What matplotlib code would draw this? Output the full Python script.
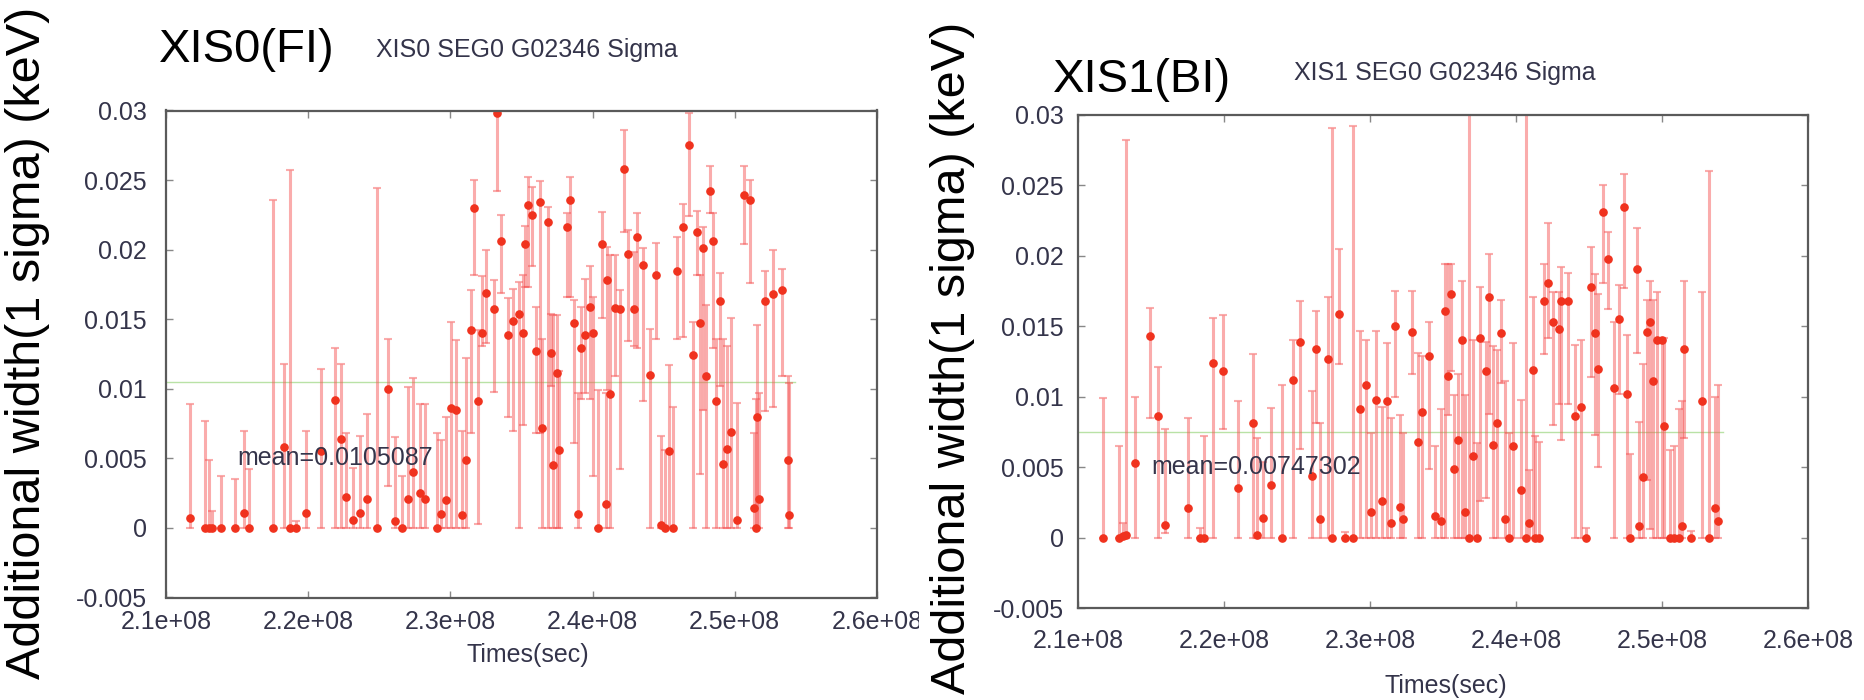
import matplotlib
matplotlib.use("Agg")
import matplotlib.pyplot as plt
import numpy as np
from matplotlib.patches import Rectangle

plt.rcParams['font.family'] = ['Liberation Sans', 'DejaVu Sans']

# XIS0 (FI): time [1e8 s], sigma [keV], lower / upper end of the error bar
xis0_time = [2.1171, 2.1276, 2.1299, 2.1323, 2.1386, 2.1487, 2.1550, 2.1585, 2.1749, 2.1831,
             2.1869, 2.1916, 2.1986, 2.2091, 2.2185, 2.2230, 2.2267, 2.2318, 2.2365, 2.2412,
             2.2483, 2.2564, 2.2610, 2.2658, 2.2705, 2.2736, 2.2787, 2.2822, 2.2904, 2.2933,
             2.2970, 2.3003, 2.3040, 2.3080, 2.3110, 2.3145, 2.3167, 2.3197, 2.3221, 2.3251,
             2.3307, 2.3326, 2.3356, 2.3408, 2.3439, 2.3485, 2.3509, 2.3525, 2.3548, 2.3572,
             2.3602, 2.3630, 2.3642, 2.3684, 2.3706, 2.3724, 2.3748, 2.3764, 2.3818, 2.3841,
             2.3869, 2.3895, 2.3918, 2.3947, 2.3982, 2.4005, 2.4040, 2.4064, 2.4094, 2.4103,
             2.4122, 2.4157, 2.4193, 2.4223, 2.4251, 2.4291, 2.4312, 2.4356, 2.4403, 2.4443,
             2.4481, 2.4509, 2.4539, 2.4563, 2.4595, 2.4633, 2.4680, 2.4708, 2.4732, 2.4755,
             2.4778, 2.4797, 2.4825, 2.4844, 2.4867, 2.4895, 2.4918, 2.4942, 2.4973, 2.5013,
             2.5066, 2.5106, 2.5136, 2.5150, 2.5153, 2.5169, 2.5212, 2.5270, 2.5333, 2.5375,
             2.5382]
xis0_sigma = [0.0007, 0, 0, 0, 0, 0, 0.00105, 0, 0, 0.0058,
              0, 0, 0.00105, 0.0055, 0.0092, 0.0064, 0.00225, 0.0006, 0.00105, 0.0021,
              0, 0.0100, 0.0005, 0, 0.0021, 0.0040, 0.0025, 0.0021, 0, 0.0010,
              0.0020, 0.0086, 0.0085, 0.0009, 0.0049, 0.0142, 0.0230, 0.0091, 0.0140, 0.0169,
              0.0157, 0.0298, 0.0206, 0.0139, 0.0149, 0.0154, 0.0140, 0.0204, 0.0232, 0.0225,
              0.0127, 0.0234, 0.0072, 0.0220, 0.0126, 0.0045, 0.0111, 0.0056, 0.0216, 0.0236,
              0.0147, 0.0010, 0.0129, 0.0139, 0.0159, 0.0140, 0, 0.0204, 0.0017, 0.0178,
              0.0096, 0.0158, 0.0157, 0.0258, 0.0197, 0.0157, 0.0209, 0.0189, 0.0110, 0.0182,
              0.0002, 0, 0.0055, 0, 0.0185, 0.0216, 0.0275, 0.0124, 0.0213, 0.0147,
              0.0201, 0.0109, 0.0242, 0.0206, 0.0091, 0.0163, 0.0046, 0.0057, 0.0069, 0.0006,
              0.0239, 0.0236, 0.0014, 0, 0.0080, 0.0021, 0.0163, 0.0168, 0.0171, 0.0049,
              0.0009]
xis0_lo = [0, 0, 0, 0, 0, 0, 0, 0, 0, 0,
           0, 0, 0, 0, 0, 0, 0, 0, 0, 0,
           0, 0.0030, 0, 0, 0, 0, 0, 0, 0, 0,
           0, 0, 0, 0, 0, 0.0068, 0.0182, 0.0003, 0.0131, 0.0133,
           0.0098, 0.0242, 0.0169, 0.0080, 0.0070, 0, 0.0074, 0.0173, 0.0173, 0.0188,
           0.0068, 0.0068, 0, 0, 0.0102, 0, 0, 0, 0.0166, 0.0166,
           0.0061, 0, 0.0093, 0.0097, 0.0093, 0.0037, 0, 0.0151, 0, 0.0099,
           0, 0.0109, 0.0042, 0.0213, 0.0134, 0.0131, 0.0129, 0.0091, 0, 0.0136,
           0, 0, 0, 0, 0.0136, 0.0137, 0.0224, 0, 0.0182, 0.0039,
           0.0085, 0, 0.0226, 0.0129, 0, 0.0102, 0, 0, 0, 0,
           0.0204, 0.0176, 0, 0, 0, 0, 0.0084, 0.0087, 0.0109, 0,
           0]
xis0_hi = [0.0089, 0.0077, 0.0049, 0.0012, 0.0037, 0.0035, 0.0070, 0.0042, 0.0236, 0.0118,
           0.0257, 0.0005, 0.0070, 0.0114, 0.0129, 0.0118, 0.0068, 0.0043, 0.0066, 0.0082,
           0.0244, 0.0136, 0.0065, 0.0037, 0.0101, 0.0108, 0.0089, 0.0089, 0.0068, 0.0063,
           0.0080, 0.0148, 0.0135, 0.0070, 0.0122, 0.0171, 0.0250, 0.0142, 0.0181, 0.0200,
           0.0178, 0.0330, 0.0225, 0.0165, 0.0172, 0.0177, 0.0182, 0.0217, 0.0252, 0.0245,
           0.0159, 0.0249, 0.0136, 0.0231, 0.0154, 0.0153, 0.0153, 0.0113, 0.0226, 0.0252,
           0.0164, 0.0097, 0.0159, 0.0179, 0.0188, 0.0166, 0.0099, 0.0227, 0.0097, 0.0202,
           0.0196, 0.0196, 0.0171, 0.0286, 0.0214, 0.0198, 0.0226, 0.0201, 0.0143, 0.0205,
           0.0066, 0.0056, 0.0117, 0.0087, 0.0209, 0.0233, 0.0298, 0.0148, 0.0228, 0.0182,
           0.0216, 0.0160, 0.0260, 0.0226, 0.0136, 0.0183, 0.0136, 0.0131, 0.0151, 0.0090,
           0.0260, 0.0250, 0.0068, 0.0093, 0.0146, 0.0097, 0.0185, 0.0200, 0.0186, 0.0109,
           0.0104]
xis0_mean = 0.0105087

# XIS1 (BI)
xis1_time = [2.1173, 2.1283, 2.1310, 2.1327, 2.1390, 2.1493, 2.1550, 2.1596, 2.1756, 2.1836,
             2.1863, 2.1922, 2.1991, 2.2098, 2.2196, 2.2224, 2.2265, 2.2320, 2.2400, 2.2470,
             2.2521, 2.2601, 2.2630, 2.2658, 2.2710, 2.2738, 2.2790, 2.2829, 2.2886, 2.2932,
             2.2971, 2.3007, 2.3039, 2.3080, 2.3114, 2.3144, 2.3171, 2.3205, 2.3228, 2.3290,
             2.3331, 2.3354, 2.3406, 2.3445, 2.3486, 2.3514, 2.3532, 2.3555, 2.3577, 2.3605,
             2.3632, 2.3651, 2.3678, 2.3707, 2.3731, 2.3753, 2.3793, 2.3817, 2.3845, 2.3872,
             2.3897, 2.3925, 2.3952, 2.3982, 2.4034, 2.4068, 2.4091, 2.4114, 2.4130, 2.4160,
             2.4192, 2.4221, 2.4251, 2.4297, 2.4306, 2.4358, 2.4404, 2.4443, 2.4479, 2.4512,
             2.4541, 2.4560, 2.4594, 2.4632, 2.4671, 2.4708, 2.4740, 2.4758, 2.4781, 2.4827,
             2.4845, 2.4868, 2.4895, 2.4918, 2.4940, 2.4968, 2.4998, 2.5014, 2.5055, 2.5084,
             2.5119, 2.5135, 2.5153, 2.5197, 2.5272, 2.5324, 2.5363, 2.5386]
xis1_sigma = [0, 0, 0.0001, 0.0002, 0.0053, 0.0143, 0.0086, 0.0009, 0.0021, 0,
              0, 0.0124, 0.0118, 0.0035, 0.0081, 0.0002, 0.0014, 0.0037, 0, 0.0112,
              0.0139, 0.0044, 0.0134, 0.0013, 0.0127, 0, 0.0159, 0, 0, 0.0091,
              0.0108, 0.0018, 0.0098, 0.0026, 0.0097, 0.0010, 0.0150, 0.0022, 0.0013, 0.0146,
              0.0068, 0.0089, 0.0129, 0.0015, 0.0012, 0.0161, 0.0115, 0.0173, 0.0049, 0.0069,
              0.0140, 0.0018, 0, 0.0058, 0, 0.0142, 0.0118, 0.0171, 0.0066, 0.0081,
              0.0145, 0.0013, 0, 0.0065, 0.0034, 0, 0.0010, 0.0119, 0, 0,
              0.0168, 0.0181, 0.0153, 0.0148, 0.0168, 0.0168, 0.0086, 0.0093, 0, 0.0178,
              0.0145, 0.0120, 0.0231, 0.0198, 0.0106, 0.0155, 0.0235, 0.0102, 0, 0.0191,
              0.0008, 0.0043, 0.0146, 0.0153, 0.0111, 0.0140, 0.0140, 0.0079, 0, 0,
              0, 0.0008, 0.0134, 0, 0.0097, 0, 0.0021, 0.0012]
xis1_lo = [0, 0, 0, 0, 0, 0.0085, 0, 0.0003, 0, 0,
           0, 0, 0.0077, 0, 0, 0, 0, 0, 0, 0,
           0.0063, 0, 0.0081, 0, 0, 0, 0.0123, 0, 0, 0,
           0, 0, 0, 0, 0, 0, 0.0100, 0, 0, 0.0116,
           0, 0, 0.0049, 0, 0, 0, 0.0087, 0.0118, 0, 0,
           0, 0, 0, 0, 0, 0.0026, 0.0028, 0.0088, 0, 0,
           0.0110, 0, 0, 0, 0, 0, 0, 0, 0, 0,
           0.0130, 0.0142, 0.0080, 0.0095, 0.0069, 0.0095, 0, 0, 0, 0.0114,
           0.0073, 0.0050, 0.0181, 0.0162, 0, 0.0102, 0.0177, 0, 0, 0.0131,
           0, 0, 0.0041, 0.0006, 0, 0, 0, 0, 0, 0,
           0, 0, 0.0071, 0, 0, 0, 0, 0]
xis1_hi = [0.0099, 0.0065, 0.0010, 0.0282, 0.0100, 0.0163, 0.0121, 0.0077, 0.0085, 0.0007,
           0.0072, 0.0156, 0.0158, 0.0097, 0.0130, 0.0071, 0.0054, 0.0092, 0.0108, 0.0140,
           0.0168, 0.0104, 0.0161, 0.0081, 0.0171, 0.0291, 0.0205, 0.0004, 0.0292, 0.0147,
           0.0140, 0.0074, 0.0147, 0.0093, 0.0138, 0.0085, 0.0175, 0.0087, 0.0074, 0.0175,
           0.0131, 0.0129, 0.0153, 0.0065, 0.0091, 0.0194, 0.0194, 0.0194, 0.0101, 0.0116,
           0.0182, 0.0101, 0.0310, 0.0140, 0.0067, 0.0178, 0.0139, 0.0201, 0.0136, 0.0133,
           0.0169, 0.0111, 0.0074, 0.0138, 0.0098, 0.0310, 0.0048, 0.0171, 0.0072, 0.0068,
           0.0194, 0.0223, 0.0174, 0.0174, 0.0192, 0.0188, 0.0137, 0.0140, 0.0007, 0.0206,
           0.0187, 0.0173, 0.0250, 0.0217, 0.0153, 0.0179, 0.0258, 0.0144, 0.0059, 0.0220,
           0.0082, 0.0123, 0.0169, 0.0182, 0.0169, 0.0174, 0.0142, 0.0142, 0.0062, 0.0065,
           0.0091, 0.0097, 0.0182, 0.0005, 0.0174, 0.0260, 0.0100, 0.0108]
xis1_mean = 0.00747302

x_ticks = [2.1e8, 2.2e8, 2.3e8, 2.4e8, 2.5e8, 2.6e8]
x_ticklabels = ['2.1e+08', '2.2e+08', '2.3e+08', '2.4e+08', '2.5e+08', '2.6e+08']
y_ticks = [-0.005, 0, 0.005, 0.01, 0.015, 0.02, 0.025, 0.03]
y_ticklabels = ['-0.005', '0', '0.005', '0.01', '0.015', '0.02', '0.025', '0.03']

W, H = 1865, 700
fig = plt.figure(figsize=(W / 100, H / 100), dpi=100)

txt_col = '#34344a'
bar_col = (0.96, 0.32, 0.32, 0.48)
pt_col = '#f0321e'


def px(x, y):
    # pixel position (from top-left) -> figure fraction
    return x / W, 1 - y / H


def panel(rect, t, s, lo, hi, mean, tick_pad, xpad):
    ax = fig.add_axes(rect)
    t = np.array(t) * 1e8
    s = np.array(s)
    yerr = [s - np.array(lo), np.array(hi) - s]
    ax.errorbar(t, s, yerr=yerr, fmt='o', ms=5.2, color=pt_col, mec=pt_col,
                ecolor=bar_col, elinewidth=2.2, capsize=2.8, capthick=1.5)
    ax.plot([2.1e8, 2.542e8], [mean, mean], color='#b9e2a6', lw=1.0, zorder=1)
    ax.text(2.15e8, 0.005, 'mean=%g' % mean, fontsize=18, color=txt_col,
            va='center', ha='left')
    ax.set_xlim(2.1e8, 2.6e8)
    ax.set_ylim(-0.005, 0.03)
    ax.set_xticks(x_ticks)
    ax.set_xticklabels(x_ticklabels)
    ax.set_yticks(y_ticks)
    ax.set_yticklabels(y_ticklabels)
    ax.tick_params(direction='in', length=5, width=1.0, color='#888888',
                   top=True, right=True, labelsize=18, labelcolor=txt_col)
    ax.tick_params(axis='y', pad=tick_pad)
    ax.tick_params(axis='x', pad=xpad)
    for sp in ax.spines.values():
        sp.set_color('#5a5a5a')
        sp.set_linewidth(1.6)
    return ax


ax0 = panel([166 / W, 1 - 597.5 / H, 711 / W, 487 / H], xis0_time, xis0_sigma,
            xis0_lo, xis0_hi, xis0_mean, 14, 9)
ax1 = panel([1078 / W, 1 - 608 / H, 730 / W, 493 / H], xis1_time, xis1_sigma,
            xis1_lo, xis1_hi, xis1_mean, 10, 15)

fig.text(*px(527, 50), 'XIS0 SEG0 G02346 Sigma', fontsize=18, color=txt_col,
         ha='center', va='center')
fig.text(*px(1445, 73), 'XIS1 SEG0 G02346 Sigma', fontsize=18, color=txt_col,
         ha='center', va='center')

for ax, xc, yc in [(ax0, 528, 655), (ax1, 1446, 686)]:
    ax.set_xlabel('Times(sec)', fontsize=18, color=txt_col)
    pos = ax.get_position()
    ax.xaxis.set_label_coords((xc / W - pos.x0) / pos.width,
                              ((1 - yc / H) - pos.y0) / pos.height)
    ax.xaxis.label.set_va('center')

for ax, xc, yc in [(ax0, 27, 343), (ax1, 953, 358)]:
    ax.set_ylabel('Additional width(1 sigma) (keV)', fontsize=35, color='black')
    pos = ax.get_position()
    ax.yaxis.set_label_coords((xc / W - pos.x0) / pos.width,
                              ((1 - yc / H) - pos.y0) / pos.height)
    ax.yaxis.label.set_va('center')

fig.text(*px(159, 50), 'XIS0(FI)', fontsize=34, va='center', ha='left')
fig.text(*px(1053, 80), 'XIS1(BI)', fontsize=34, va='center', ha='left')

# the left panel's last tick label is cut off where the right panel begins
fig.patches.append(Rectangle(px(919, 650), 11 / W, 50 / H, transform=fig.transFigure,
                             facecolor='white', edgecolor='none', zorder=10))

fig.savefig('out.png', dpi=100, facecolor='white')
